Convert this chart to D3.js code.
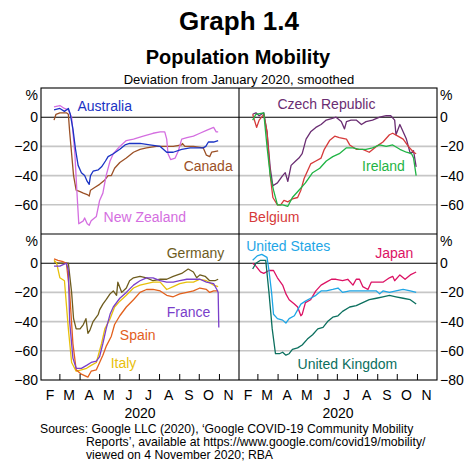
<!DOCTYPE html>
<html><head><meta charset="utf-8">
<script src="https://cdn.jsdelivr.net/npm/d3@7"></script>
<style>body{margin:0;background:#fff} svg{display:block} text{font-family:"Liberation Sans",Arial,Helvetica,sans-serif;fill:#000}</style>
</head><body><svg id="c" width="472" height="472"></svg>
<script>
const monthLabels = ["F","M","A","M","J","J","A","S","O","N"];
const yTicksTop = [0,-20,-40,-60];
const yTicksBottom = [0,-20,-40,-60,-80];
const yGrid = [-20,-40,-60];
const yearLabel = "2020";

const australia = [["02-21",5],["03-01",6],["03-08",4],["03-14",6],["03-17",2],["03-21",-8],["03-25",-22],["03-29",-33],["04-03",-38],["04-08",-40],["04-12",-44],["04-15",-46],["04-17",-40],["04-21",-37],["04-29",-36],["05-04",-34],["05-10",-30],["05-14",-27],["05-22",-25],["06-01",-22],["06-09",-19],["06-16",-18],["07-02",-18],["07-17",-19],["08-02",-20],["08-12",-24],["08-22",-24],["09-04",-22],["09-17",-21],["10-07",-21],["10-11",-20],["10-15",-17],["10-23",-17],["10-30",-16]];
const canada = [["02-21",-2],["02-24",2],["03-01",3],["03-08",3],["03-11",3],["03-14",2],["03-16",-10],["03-19",-25],["03-22",-40],["03-26",-50],["04-01",-51],["04-06",-52],["04-12",-53],["04-15",-54],["04-17",-50],["04-24",-48],["05-01",-46],["05-09",-43],["05-14",-40],["05-19",-40],["05-24",-35],["06-01",-31],["06-11",-28],["06-22",-24],["07-02",-22],["07-12",-21],["07-27",-20],["08-12",-20],["08-22",-20],["09-04",-19],["09-05",-18],["09-09",-20],["09-22",-20],["10-07",-21],["10-12",-26],["10-17",-27],["10-20",-24],["10-30",-23]];
const newZealand = [["02-21",7],["03-01",8],["03-08",6],["03-14",5],["03-19",0],["03-24",-25],["03-27",-50],["03-30",-73],["04-06",-71],["04-08",-69],["04-12",-73],["04-15",-74],["04-18",-71],["04-26",-68],["05-01",-57],["05-06",-52],["05-11",-40],["05-17",-30],["05-22",-25],["06-01",-20],["06-11",-16],["06-22",-15],["07-07",-13],["07-22",-11],["08-02",-10],["08-09",-10],["08-12",-15],["08-14",-25],["08-18",-29],["08-25",-28],["08-30",-23],["09-04",-15],["09-12",-14],["09-22",-13],["10-02",-11],["10-12",-9],["10-23",-7],["10-27",-10],["10-30",-10]];
const czech = [["02-22",2],["02-27",3],["03-03",1],["03-10",3],["03-15",-10],["03-20",-35],["03-24",-47],["03-31",-45],["04-08",-40],["04-12",-38],["04-16",-44],["04-21",-33],["04-28",-30],["05-03",-28],["05-08",-25],["05-14",-15],["05-21",-10],["05-29",-7],["06-06",-5],["06-14",-2],["06-22",-1],["06-29",0],["07-07",-3],["07-12",-8],["07-15",-3],["07-22",-2],["07-30",-2],["08-07",-5],["08-14",-3],["08-24",-2],["09-04",0],["09-14",1],["09-21",1],["09-27",-2],["09-29",-12],["10-05",-5],["10-10",-10],["10-15",-15],["10-21",-25],["10-26",-23],["10-30",-34]];
const belgium = [["02-22",2],["02-28",-7],["03-03",-2],["03-10",2],["03-15",-10],["03-20",-40],["03-24",-55],["03-31",-60],["04-05",-60],["04-10",-57],["04-16",-58],["04-23",-56],["05-01",-55],["05-06",-50],["05-11",-42],["05-16",-37],["05-21",-32],["05-29",-30],["06-06",-28],["06-11",-22],["06-19",-16],["06-27",-13],["07-04",-14],["07-15",-15],["07-20",-19],["07-30",-22],["08-09",-22],["08-19",-24],["08-30",-20],["09-09",-17],["09-19",-12],["09-24",-11],["10-02",-13],["10-10",-15],["10-18",-20],["10-26",-24],["10-30",-25]];
const ireland = [["02-22",-2],["02-27",2],["03-10",3],["03-15",-20],["03-20",-40],["03-25",-50],["03-31",-60],["04-08",-60],["04-16",-61],["04-23",-55],["05-03",-50],["05-13",-45],["05-24",-38],["06-04",-35],["06-14",-30],["06-24",-27],["07-04",-25],["07-15",-21],["07-25",-21],["08-04",-22],["08-14",-22],["08-24",-21],["09-04",-19],["09-14",-20],["09-24",-19],["10-05",-22],["10-15",-24],["10-23",-25],["10-26",-28],["10-30",-40]];
const germany = [["02-21",1],["02-27",0],["03-08",0],["03-14",0],["03-19",-20],["03-22",-38],["03-26",-45],["04-01",-45],["04-06",-42],["04-10",-38],["04-13",-48],["04-16",-46],["04-21",-40],["04-29",-35],["05-01",-32],["05-06",-28],["05-11",-25],["05-17",-21],["05-22",-19],["05-27",-22],["05-29",-13],["06-04",-20],["06-11",-17],["06-16",-12],["06-22",-10],["07-02",-9],["07-12",-10],["07-22",-12],["08-02",-11],["08-12",-11],["08-22",-9],["09-04",-7],["09-14",-4],["09-22",-6],["09-27",-10],["10-02",-8],["10-10",-9],["10-17",-12],["10-25",-12],["10-30",-11]];
const france = [["02-21",-2],["03-01",-2],["03-11",0],["03-14",-5],["03-16",-40],["03-21",-65],["03-26",-72],["04-03",-72],["04-11",-70],["04-18",-68],["04-26",-67],["05-01",-64],["05-06",-55],["05-11",-45],["05-17",-35],["05-22",-30],["06-01",-24],["06-11",-20],["06-22",-15],["07-02",-12],["07-12",-10],["07-22",-10],["08-02",-12],["08-12",-13],["08-22",-13],["09-01",-12],["09-12",-11],["09-22",-11],["10-02",-11],["10-12",-13],["10-23",-14],["10-28",-18],["10-30",-20],["10-31",-44]];
const spain = [["02-21",3],["02-27",2],["03-06",1],["03-11",0],["03-16",-20],["03-21",-55],["03-26",-73],["04-03",-76],["04-08",-77],["04-13",-78],["04-18",-74],["04-26",-73],["05-01",-68],["05-06",-63],["05-11",-57],["05-19",-50],["05-24",-42],["06-01",-36],["06-11",-30],["06-22",-25],["07-02",-20],["07-12",-18],["07-22",-18],["08-02",-19],["08-12",-22],["08-22",-23],["09-01",-21],["09-12",-20],["09-22",-19],["10-02",-17],["10-12",-18],["10-17",-20],["10-23",-19],["10-30",-19]];
const italy = [["02-21",2],["02-25",0],["03-01",-10],["03-08",-12],["03-14",-45],["03-19",-68],["03-26",-74],["04-03",-73],["04-11",-72],["04-18",-70],["04-26",-68],["05-04",-55],["05-09",-45],["05-17",-38],["05-24",-30],["06-01",-26],["06-11",-22],["06-22",-17],["07-02",-15],["07-12",-14],["07-22",-13],["08-02",-13],["08-12",-18],["08-22",-16],["09-01",-14],["09-12",-13],["09-22",-13],["10-02",-11],["10-12",-12],["10-23",-15],["10-30",-16]];
const unitedStates = [["02-22",2],["02-29",5],["03-07",6],["03-15",4],["03-18",-5],["03-22",-20],["03-25",-35],["03-31",-38],["04-08",-39],["04-13",-41],["04-18",-38],["04-26",-36],["05-01",-32],["05-06",-28],["05-13",-26],["05-21",-24],["05-29",-22],["06-06",-19],["06-14",-19],["06-24",-18],["07-02",-17],["07-09",-20],["07-20",-19],["07-30",-19],["08-09",-19],["08-19",-19],["08-30",-19],["09-04",-21],["09-09",-19],["09-19",-20],["09-29",-19],["10-10",-18],["10-21",-19],["10-30",-20]];
const japan = [["02-22",0],["02-27",-2],["03-05",-6],["03-10",-7],["03-18",-5],["03-25",-5],["03-31",-10],["04-08",-15],["04-13",-21],["04-18",-25],["04-26",-28],["05-01",-30],["05-06",-36],["05-08",-35],["05-13",-27],["05-21",-25],["05-29",-19],["06-06",-15],["06-14",-13],["06-22",-11],["06-29",-11],["07-09",-12],["07-17",-11],["07-25",-15],["07-30",-11],["08-04",-11],["08-09",-16],["08-17",-18],["08-22",-13],["08-30",-13],["09-09",-13],["09-19",-10],["09-24",-9],["09-27",-12],["10-05",-8],["10-13",-11],["10-21",-8],["10-30",-6]];
const unitedKingdom = [["02-22",-4],["02-27",0],["03-05",2],["03-13",2],["03-18",-20],["03-23",-45],["03-28",-62],["04-03",-62],["04-08",-61],["04-13",-63],["04-18",-62],["04-23",-59],["05-01",-58],["05-08",-56],["05-16",-52],["05-24",-49],["06-01",-45],["06-09",-44],["06-16",-40],["06-24",-37],["07-02",-36],["07-09",-33],["07-20",-30],["07-30",-29],["08-09",-27],["08-19",-25],["08-30",-24],["09-09",-23],["09-19",-22],["09-29",-23],["10-10",-24],["10-21",-25],["10-30",-28]];

const panels = [
  {col:0,row:0,series:[
    {name:"Canada",data:canada,color:"#9b5026",lab:["09-07",-33.7]},
    {name:"New Zealand",data:newZealand,color:"#d46ee0",lab:["05-07",-68.6]},
    {name:"Australia",data:australia,color:"#1a33c4",lab:["03-28",7.5]}]},
  {col:1,row:0,series:[
    {name:"Czech Republic",data:czech,color:"#6a2d72",lab:["03-31",8.7]},
    {name:"Belgium",data:belgium,color:"#d63a3a",lab:["02-16",-68.6]},
    {name:"Ireland",data:ireland,color:"#1fb444",lab:["08-08",-33.7]}]},
  {col:0,row:1,series:[
    {name:"Germany",data:germany,color:"#6e5c1e",lab:["08-12",7]},
    {name:"Italy",data:italy,color:"#e8c00c",lab:["05-18",-68.2]},
    {name:"Spain",data:spain,color:"#e2601c",lab:["06-01",-49]},
    {name:"France",data:france,color:"#7a3fca",lab:["08-12",-33.3]}]},
  {col:1,row:1,series:[
    {name:"Japan",data:japan,color:"#dc1264",lab:["08-28",7]},
    {name:"United Kingdom",data:unitedKingdom,color:"#0b6f5e",lab:["05-01",-68.9]},
    {name:"United States",data:unitedStates,color:"#1ea6e6",lab:["02-12",12]}]}
];

const W=472, L=41, R=437, MX=239, T=88, MY=234, B=380;
const svg = d3.select("#c");
const parse = s => d3.timeParse("%Y-%m-%d")("2020-"+s);
const font = '"Liberation Sans",Arial,sans-serif';

svg.append("text").attr("x",239).attr("y",30).attr("text-anchor","middle")
  .attr("font-size",26).attr("font-weight","bold").text("Graph 1.4");
svg.append("text").attr("x",238).attr("y",64).attr("text-anchor","middle")
  .attr("font-size",20).attr("font-weight","bold").text("Population Mobility");
svg.append("text").attr("x",239).attr("y",84).attr("text-anchor","middle")
  .attr("font-size",13).text("Deviation from January 2020, smoothed");

const xDomain = [new Date(2020,1,1), new Date(2020,11,1)];
const cols = [[L,MX],[MX,R]];
const rows = [[MY,T],[B,MY]];

panels.forEach(p => {
  const x = d3.scaleTime().domain(xDomain).range(cols[p.col]);
  const y = d3.scaleLinear().domain([-80,20]).range(rows[p.row]);
  const g = svg.append("g");
  g.selectAll(".grid").data(yGrid).join("line")
    .attr("x1",cols[p.col][0]).attr("x2",cols[p.col][1])
    .attr("y1",d=>y(d)).attr("y2",d=>y(d))
    .attr("stroke","#c6c6c6").attr("stroke-width",1.6);
  g.append("line").attr("x1",cols[p.col][0]).attr("x2",cols[p.col][1])
    .attr("y1",y(0)).attr("y2",y(0)).attr("stroke","#000").attr("stroke-width",1.1);
  const ticks = p.row===0 ? yTicksTop : yTicksBottom;
  const axis = (p.col===0 ? d3.axisLeft(y) : d3.axisRight(y)).tickValues(ticks).tickSize(0).tickPadding(3);
  const ax = svg.append("g").attr("transform",`translate(${p.col===0?L:R},0)`).call(axis);
  ax.select(".domain").remove();
  ax.selectAll("text").attr("font-size",14).attr("font-family",font).attr("fill","#000");
  svg.append("text").attr("x",p.col===0?L-3:R+3).attr("y",y(15)).attr("dy","0.35em")
    .attr("text-anchor",p.col===0?"end":"start").attr("font-size",14).text("%");
  const line = d3.line().x(d=>x(parse(d[0]))).y(d=>y(d[1]));
  p.series.forEach(s => {
    g.append("path").attr("d",line(s.data)).attr("fill","none")
      .attr("stroke",s.color).attr("stroke-width",1.3).attr("stroke-linejoin","round");
    g.append("text").attr("x",x(parse(s.lab[0]))).attr("y",y(s.lab[1])).attr("dy","0.35em")
      .attr("font-size",14).style("fill",s.color).text(s.name);
  });
  if (p.row===1) {
    const months = d3.timeMonth.range(new Date(2020,2,1), new Date(2020,10,2));
    g.selectAll(".tk").data(months).join("line")
      .attr("x1",d=>x(d)).attr("x2",d=>x(d)).attr("y1",B).attr("y2",B-6)
      .attr("stroke","#000").attr("stroke-width",1);
    const mids = d3.timeMonth.range(new Date(2020,1,1), new Date(2020,11,1));
    g.selectAll(".ml").data(mids).join("text")
      .attr("x",d=>x(new Date(d.getFullYear(),d.getMonth(),15.5)))
      .attr("y",400).attr("text-anchor","middle").attr("font-size",14)
      .text((d,i)=>monthLabels[i]);
    g.append("text").attr("x",(cols[p.col][0]+cols[p.col][1])/2).attr("y",418)
      .attr("text-anchor","middle").attr("font-size",14).text(yearLabel);
  }
});

const fr = svg.append("g").attr("stroke","#000").attr("stroke-width",1.1).attr("fill","none");
fr.append("rect").attr("x",L).attr("y",T).attr("width",R-L).attr("height",B-T);
fr.append("line").attr("x1",MX).attr("x2",MX).attr("y1",T).attr("y2",B);
fr.append("line").attr("x1",L).attr("x2",R).attr("y1",MY).attr("y2",MY);

const src = svg.append("g").attr("font-size",12.2);
src.append("text").attr("x",40).attr("y",433).text("Sources: Google LLC (2020), \u2018Google COVID-19 Community Mobility");
src.append("text").attr("x",86).attr("y",446).text("Reports\u2019, available at https://www.google.com/covid19/mobility/");
src.append("text").attr("x",86).attr("y",459).text("viewed on 4 November 2020; RBA");
</script></body></html>
